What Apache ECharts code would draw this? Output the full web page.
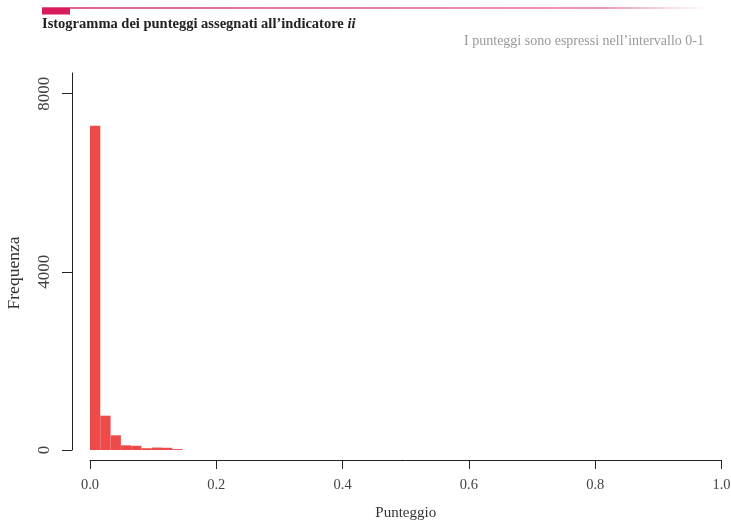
<!DOCTYPE html>
<html>
<head>
<meta charset="utf-8">
<script src="https://cdn.jsdelivr.net/npm/echarts@6/dist/echarts.min.js"></script>
<style>
  html, body { margin: 0; padding: 0; background: #fff; }
  #main { width: 731px; height: 520px; }
</style>
</head>
<body>
<div id="main"></div>
<script>
// classi dell'istogramma (inizio di ogni classe) e frequenze
var binWidth = 0.0163;
var binStart = [0, 0.0163, 0.0326, 0.0489, 0.0652, 0.0815, 0.0978, 0.1141, 0.1304];
var counts = [7280, 770, 330, 105, 95, 40, 55, 50, 20];
var xTicks = [0, 0.2, 0.4, 0.6, 0.8, 1.0];
var yTicks = [0, 4000, 8000];

var serif = "'Liberation Serif', 'DejaVu Serif', serif";
var myChart = echarts.init(document.getElementById("main"));

var option = {
  animation: false,
  title: [
    {
      text: "{b|Istogramma dei punteggi assegnati all\u2019indicatore }{i|ii}",
      left: 42,
      top: 17,
      padding: 0,
      textStyle: {
        rich: {
          b: { fontFamily: serif, fontWeight: "bold", fontSize: 14.5, color: "#222" },
          i: { fontFamily: serif, fontWeight: "bold", fontStyle: "italic", fontSize: 14.5, color: "#222" }
        }
      }
    },
    {
      text: "I punteggi sono espressi nell\u2019intervallo 0-1",
      right: 27,
      top: 34,
      padding: 0,
      textStyle: { fontFamily: serif, fontWeight: "normal", fontSize: 14, color: "#999" }
    }
  ],
  graphic: [
    {
      type: "rect",
      shape: { x: 42, y: 7, width: 668, height: 2 },
      style: {
        fill: new echarts.graphic.LinearGradient(0, 0, 1, 0, [
          { offset: 0, color: "#e0608c" },
          { offset: 0.85, color: "#eb9ab6" },
          { offset: 1, color: "rgba(240,180,200,0)" }
        ])
      }
    },
    {
      type: "rect",
      shape: { x: 42, y: 8, width: 28, height: 6.5 },
      style: { fill: "#d81b5a" }
    }
  ],
  grid: { left: 90, right: 9.5, top: 73, bottom: 70, outerBoundsMode: "none", containLabel: false },
  xAxis: {
    type: "value",
    min: 0,
    max: 1,
    interval: 0.2,
    offset: 10,
    name: "Punteggio",
    nameLocation: "middle",
    nameGap: 46,
    nameTextStyle: { fontFamily: serif, fontSize: 15, color: "#333" },
    splitLine: { show: false },
    axisLine: { show: true, onZero: false, lineStyle: { color: "#222", width: 1 } },
    axisTick: { show: true, length: 9, lineStyle: { color: "#222" } },
    axisLabel: {
      margin: 18,
      fontFamily: serif,
      fontSize: 14.5,
      color: "#444",
      formatter: function (v) { return v.toFixed(1); }
    }
  },
  yAxis: {
    type: "value",
    min: 0,
    max: 8464,
    offset: 18,
    name: "Frequenza",
    nameLocation: "middle",
    nameGap: 49,
    nameTextStyle: { fontFamily: serif, fontSize: 17.5, color: "#333", padding: [0, 23, 0, 0] },
    splitLine: { show: false },
    axisLine: { show: true, onZero: false, lineStyle: { color: "#222", width: 1 } },
    axisTick: { show: true, length: 10, customValues: yTicks, lineStyle: { color: "#222" } },
    axisLabel: {
      customValues: yTicks,
      rotate: 90,
      margin: 19,
      fontFamily: serif,
      fontSize: 17,
      color: "#444",
      formatter: function (v) { return String(v); }
    }
  },
  series: [
    {
      type: "custom",
      renderItem: function (params, api) {
        var topLeft = api.coord([api.value(0), api.value(2)]);
        var bottomRight = api.coord([api.value(1), 0]);
        return {
          type: "rect",
          shape: {
            x: topLeft[0],
            y: topLeft[1],
            width: bottomRight[0] - topLeft[0],
            height: bottomRight[1] - topLeft[1]
          },
          style: { fill: "#ef4a4a" }
        };
      },
      encode: { x: [0, 1], y: 2 },
      data: binStart.map(function (s, i) {
        return [s, s + binWidth, counts[i]];
      })
    }
  ]
};
myChart.setOption(option);
</script>
</body>
</html>
